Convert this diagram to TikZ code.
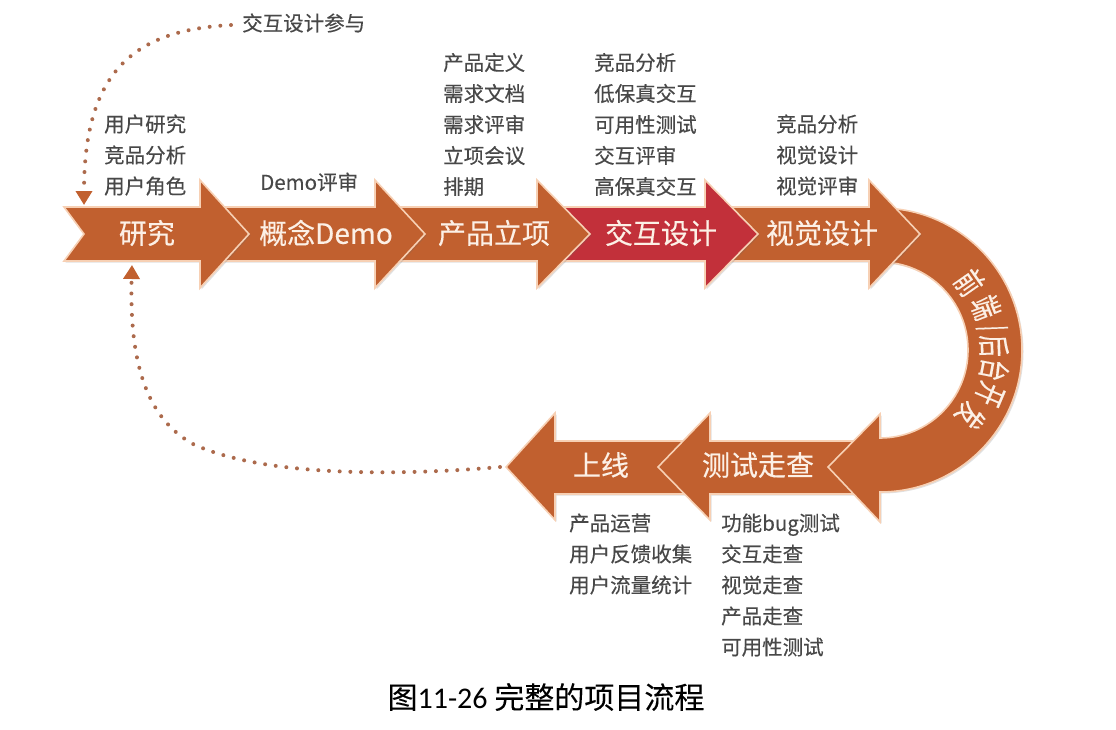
\documentclass[tikz,border=0pt]{standalone}
\usepackage{fontspec}
\setmainfont{Noto Sans CJK SC}[FakeBold=0.35]
\newfontfamily\capcjk{Noto Sans CJK SC}[FakeBold=0.15]
\newfontfamily\capnum{Carlito}
\usepackage{xcolor}
\usetikzlibrary{arrows.meta,shadows,positioning}
\definecolor{flowbrown}{RGB}{193,96,47}
\definecolor{flowred}{RGB}{194,48,58}
\definecolor{flowedge}{RGB}{247,208,180}
\definecolor{flowtext}{RGB}{252,240,230}
\definecolor{flowlabel}{RGB}{72,72,72}
\definecolor{flowdot}{RGB}{172,106,76}
\newcommand{\slashch}{/}
\tikzstyle{flowarrow} = [draw=flowedge, fill=flowbrown, line width=1.6pt, line join=miter, drop shadow={shadow xshift=1.5pt, shadow yshift=-1.5pt, opacity=0.2, fill=black!60}]
\tikzstyle{steptext} = [text=flowtext, font=\fontsize{28}{30}\selectfont, inner sep=0pt]
\tikzstyle{arctext} = [text=flowtext, font=\fontsize{27}{28}\selectfont, inner sep=0pt]
\tikzstyle{tasklist} = [text=flowlabel, anchor=west, align=left, inner sep=0pt, font=\fontsize{20.5}{31}\selectfont]
\tikzstyle{dotline} = [flowdot, line width=4pt, line cap=round, dash pattern=on 0pt off 10.7pt, -{Triangle[width=16pt,length=14pt,flowbrown]}]
\begin{document}
\begin{tikzpicture}[x=1pt, y=-1pt]
\useasboundingbox (0,0) rectangle (1116,729);

% Lower row, right to left
\draw[flowarrow] (700,441) -- (555,441) -- (555,413) -- (506,467) -- (555,520) -- (555,494) -- (700,494) -- cycle;
\draw[flowarrow] (860,441) -- (710,441) -- (710,413) -- (658,467) -- (710,520) -- (710,494) -- (860,494) -- cycle;

% Curved arrow
\draw[flowarrow] (880,208) .. controls (958.4,208) and (1022,271.6) .. (1022,350) .. controls (1022,428.4) and (958.4,492) .. (880,492) -- (880,522) -- (828,467) -- (880,414) -- (880,438) .. controls (928.6,438) and (968,398.6) .. (968,350) .. controls (968,301.4) and (928.6,262) .. (880,262) -- cycle;

% Upper row, drawn back to front
\draw[flowarrow] (725,207) -- (869,207) -- (869,180) -- (920,234) -- (869,288) -- (869,261) -- (725,261) -- cycle;
\draw[flowarrow, fill=flowred] (558,207) -- (705,207) -- (705,180) -- (758,234) -- (705,288) -- (705,261) -- (558,261) -- cycle;
\draw[flowarrow] (393,207) -- (537,207) -- (537,180) -- (590,234) -- (537,288) -- (537,261) -- (393,261) -- cycle;
\draw[flowarrow] (218,207) -- (375,207) -- (375,180) -- (425,234) -- (375,288) -- (375,261) -- (218,261) -- cycle;
\draw[flowarrow] (64,207) -- (200,207) -- (200,180) -- (249,234) -- (200,288) -- (200,261) -- (64,261) -- (84,234) -- cycle;

% Step names
\node (research) [steptext] at (147,233) {研究};
\node (concept) [steptext] at (326,233) {概念Demo};
\node (project) [steptext] at (494,233) {产品立项};
\node (interact) [steptext] at (661,233) {交互设计};
\node (visual) [steptext] at (822,233) {视觉设计};
\node (online) [steptext] at (601,465) {上线};
\node (walk) [steptext] at (758,465) {测试走查};

% Text along the curve
\foreach \ch/\ang/\rad/\rot [count=\i] in {前/-37/112/-55, 端/-22/114/-69, \slashch/-11/114/-76, 后/-2/114/-88, 台/10/116/-101, 开/22/118/-113, 发/36/112/-126}
  \node (dev\i) [arctext, rotate=\rot] at ([shift={(880,350)}]\ang:\rad) {\scalebox{0.82}[1.2]{\ch}};

% Task lists
\node (researchlist) [tasklist] at (104,155) {用户研究\\竞品分析\\用户角色};
\node (conceptlist) [tasklist] at (260,182) {Demo评审};
\node (projectlist) [tasklist] at (443,124.5) {产品定义\\需求文档\\需求评审\\立项会议\\排期};
\node (interactlist) [tasklist] at (594,124.5) {竞品分析\\低保真交互\\可用性测试\\交互评审\\高保真交互};
\node (visuallist) [tasklist] at (776,155) {竞品分析\\视觉设计\\视觉评审};
\node (onlinelist) [tasklist] at (569,554) {产品运营\\用户反馈收集\\用户流量统计};
\node (walklist) [tasklist] at (721,585) {功能bug测试\\交互走查\\视觉走查\\产品走查\\可用性测试};
\node (joinlabel) [tasklist] at (242,23) {交互设计参与};

% Dotted loops
\coordinate (joinstart) at (231,25);
\coordinate (joinend) at (84,205);
\coordinate (onlinetip) at (500,467);
\coordinate (loopbend) at (193,444);
\coordinate (backend) at (132,265);
\draw[dotline] (joinstart) .. controls (135,30) and (84,70) .. (joinend);
\draw[dotline] (onlinetip) .. controls (420,474) and (270,480) .. (loopbend) .. controls (150,420) and (129,370) .. (backend);

% Caption
\node (caption) [font=\fontsize{30}{32}\selectfont\capcjk, text=black, inner sep=0pt] at (546,697) {图{\capnum 11-26} 完整的项目流程};
\end{tikzpicture}
\end{document}
